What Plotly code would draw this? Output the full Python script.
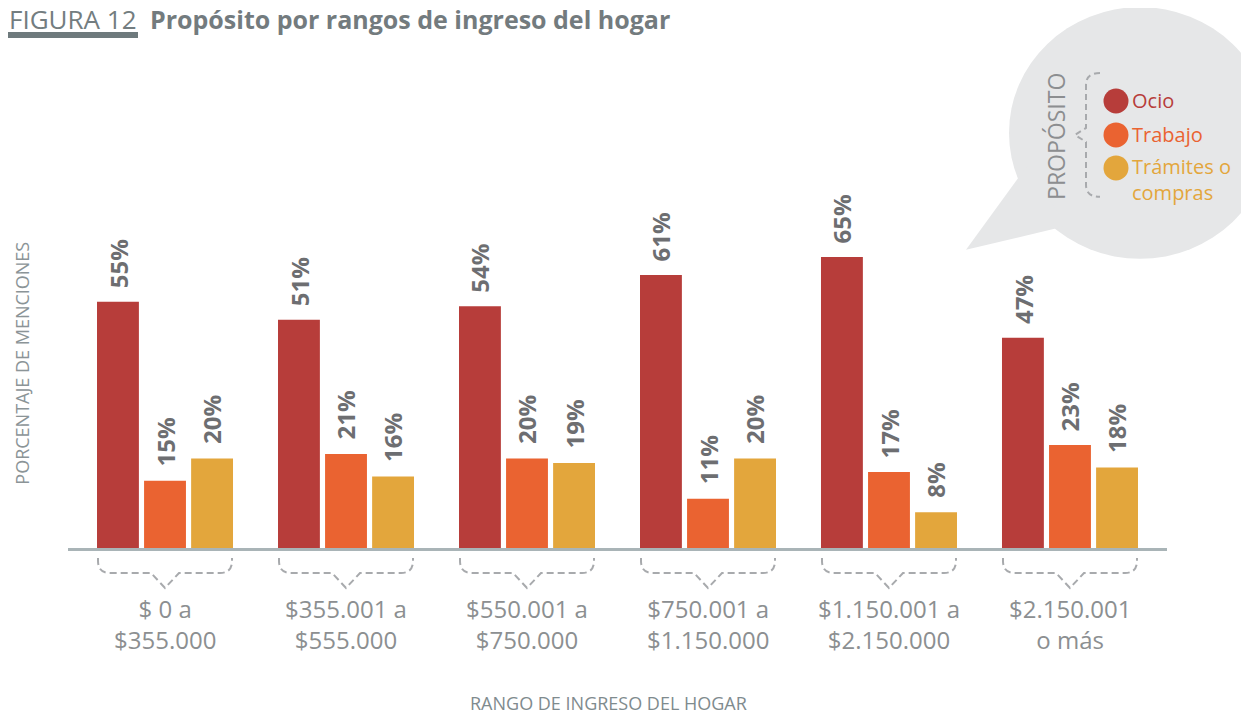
import plotly.graph_objects as go

# ---------------- data ----------------
categories = ["$ 0 a<br>$355.000", "$355.001 a<br>$555.000", "$550.001 a<br>$750.000",
              "$750.001 a<br>$1.150.000", "$1.150.001 a<br>$2.150.000", "$2.150.001<br>o más"]
series_names = ["Ocio", "Trabajo", "Trámites o compras"]
ocio = [55, 51, 54, 61, 65, 47]
trabajo = [15, 21, 20, 11, 17, 23]
tramites = [20, 16, 19, 20, 8, 18]
colors = ["#b73d3a", "#ea6331", "#e3a63c"]

title_num = "FIGURA 12"
title_txt = "Propósito por rangos de ingreso del hogar"
y_title = "PORCENTAJE DE MENCIONES"
x_title = "RANGO DE INGRESO DEL HOGAR"
legend_title = "PROPÓSITO"
legend_labels = ["Ocio", "Trabajo", "Trámites o<br>compras"]

# ---------------- layout geometry ----------------
OX, OY = 8, 8            # page body margin
W, H = 1241, 705
L, R, T, B = 60, 82, 52, 164.5
PW, PH = W - L - R, H - T - B
XR = [-0.536, 5.536]
YR = [0, PH / 4.48]
FONT = "Open Sans"
GREY_TXT = "#8c8f91"


def X(px):
    return (px - OX - L) / PW


def Y(py):
    return (H - B - (py - OY)) / PH


def cx_px(i):
    return OX + L + (i - XR[0]) / (XR[1] - XR[0]) * PW


fig = go.Figure()
xs = list(range(len(categories)))
for name, vals, col in zip(series_names, [ocio, trabajo, tramites], colors):
    fig.add_trace(go.Bar(x=xs, y=vals, name=name, marker_color=col,
                         marker_line_width=0, showlegend=False, hoverinfo="skip"))

bargap, bargroupgap = 0.22, 0.11
slot = (1 - bargap) / 3
offsets = [-slot, 0, slot]

annotations = []
for j, vals in enumerate([ocio, trabajo, tramites]):
    for i, v in enumerate(vals):
        annotations.append(dict(
            x=i + offsets[j], y=v, xref="x", yref="y", text=f"{v}%",
            textangle=-90, showarrow=False, yanchor="bottom", xanchor="center",
            yshift=12, font=dict(family=FONT, size=24, color="#6d6e71", weight="bold")))

# category labels (two lines each)
for i, cat in enumerate(categories):
    annotations.append(dict(
        x=i, y=0, xref="x", yref="y", text=cat, showarrow=False,
        xanchor="center", yanchor="middle", yshift=-75.5, align="center",
        font=dict(family=FONT, size=24, color=GREY_TXT)))

# titles
annotations += [
    dict(x=X(7), y=Y(19), xref="paper", yref="paper", text=title_num, showarrow=False,
         xanchor="left", yanchor="middle", font=dict(family=FONT, size=26, color="#737d80")),
    dict(x=X(148), y=Y(19), xref="paper", yref="paper", text=title_txt, showarrow=False,
         xanchor="left", yanchor="middle",
         font=dict(family=FONT, size=25, color="#737b7e", weight="bold")),
    dict(x=X(22), y=Y(364), xref="paper", yref="paper", text=y_title, showarrow=False,
         textangle=-90, xanchor="center", yanchor="middle",
         font=dict(family=FONT, size=18, color="#8b9497")),
    dict(x=X(608), y=Y(704), xref="paper", yref="paper", text=x_title, showarrow=False,
         xanchor="center", yanchor="middle", font=dict(family=FONT, size=18, color="#7f8b8e")),
]

shapes = []
# underline bar of the figure number
shapes.append(dict(type="rect", xref="paper", yref="paper", x0=X(8), x1=X(138), y0=Y(38), y1=Y(32),
                   fillcolor="#6e7a7d", line_width=0))

# group braces under each category
dash_line = dict(color="#a8aaad", width=2, dash="7px,4px")
base = OY + H - B
for i in xs:
    c = cx_px(i)
    hw = 67
    top, mid, tip = base + 10, base + 25, base + 40
    r = 12
    p = (f"M {X(c-hw)},{Y(top)} L {X(c-hw)},{Y(mid-r)} Q {X(c-hw)},{Y(mid)} {X(c-hw+r)},{Y(mid)} "
         f"L {X(c-14)},{Y(mid)} L {X(c)},{Y(tip)} L {X(c+14)},{Y(mid)} "
         f"L {X(c+hw-r)},{Y(mid)} Q {X(c+hw)},{Y(mid)} {X(c+hw)},{Y(mid-r)} L {X(c+hw)},{Y(top)}")
    shapes.append(dict(type="path", xref="paper", yref="paper", path=p, line=dash_line, layer="above"))

# speech bubble
bub = "#e6e7e8"
bc, brx, bry = (1140, 133), 131, 126
shapes.append(dict(type="circle", xref="paper", yref="paper", x0=X(bc[0]-brx), x1=X(bc[0]+brx),
                   y0=Y(bc[1]+bry), y1=Y(bc[1]-bry), fillcolor=bub, line_width=0, layer="below"))
shapes.append(dict(type="path", xref="paper", yref="paper",
                   path=f"M {X(1027)},{Y(166)} L {X(966)},{Y(250)} L {X(1067)},{Y(226)} Z",
                   fillcolor=bub, line_width=0, layer="below"))

# legend brace
lb = (f"M {X(1100)},{Y(73)} Q {X(1086)},{Y(73)} {X(1086)},{Y(85)} L {X(1086)},{Y(128)} "
      f"L {X(1075)},{Y(135)} L {X(1086)},{Y(142)} L {X(1086)},{Y(185)} "
      f"Q {X(1086)},{Y(197)} {X(1100)},{Y(197)}")
shapes.append(dict(type="path", xref="paper", yref="paper", path=lb,
                   line=dict(color="#a8aaad", width=2, dash="6px,4px")))

leg_y = [101, 135, 168]
for col, yy in zip(colors, leg_y):
    shapes.append(dict(type="circle", xref="paper", yref="paper", x0=X(1103.5), x1=X(1128.5),
                       y0=Y(yy+12.5), y1=Y(yy-12.5), fillcolor=col, line_width=0))

legend_pos = [101, 135, 180]
for txt, yy, col in zip(legend_labels, legend_pos, colors):
    annotations.append(dict(x=X(1130), y=Y(yy), xref="paper", yref="paper", text=txt,
                            showarrow=False, xanchor="left", yanchor="middle", align="left",
                            font=dict(family=FONT, size=20, color=col)))
annotations.append(dict(x=X(1056), y=Y(137), xref="paper", yref="paper", text=legend_title,
                        showarrow=False, textangle=-90, xanchor="center", yanchor="middle",
                        font=dict(family=FONT, size=23, color="#8c8e90")))

fig.update_layout(
    width=W, height=H, margin=dict(l=L, r=R, t=T, b=B, autoexpand=False),
    paper_bgcolor="white", plot_bgcolor="white",
    barmode="group", bargap=bargap, bargroupgap=bargroupgap,
    annotations=annotations, shapes=shapes,
    xaxis=dict(range=XR, tickvals=xs, ticktext=[""] * len(xs), showgrid=False, zeroline=False,
               showline=True, linecolor="#a9b4b7", linewidth=2.5, ticks="", fixedrange=True),
    yaxis=dict(range=YR, showgrid=False, zeroline=False, showticklabels=False, ticks="",
               showline=False, fixedrange=True),
    font=dict(family=FONT),
)

fig.write_html("out.html")
